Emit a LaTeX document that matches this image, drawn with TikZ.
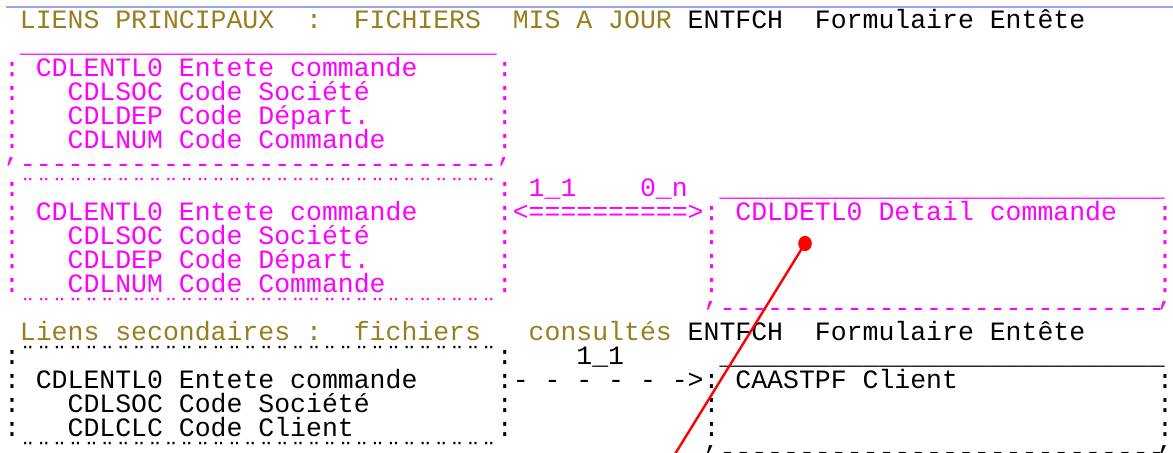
\documentclass[tikz,border=0pt]{standalone}
\usepackage{fontspec}
\setmonofont{Liberation Mono}
\definecolor{scrgold}{RGB}{155,124,30}
\definecolor{scrmag}{RGB}{255,0,255}
\definecolor{scrline}{RGB}{150,165,230}
\newcommand{\rep}[2]{\foreach \k in {1,...,#1}{#2}}
\newcommand{\tick}{\smash{\raisebox{.4em}{,}}}

\begin{document}
\begin{tikzpicture}[x=7.95pt,y=-12pt,
		scr/.style={font=\ttfamily\fontsize{13.25}{16}\selectfont,anchor=base west,inner sep=0pt,outer sep=0pt},
		gold/.style={scr,text=scrgold},
		mag/.style={scr,text=scrmag},
		blk/.style={scr,text=black},
		edge/.style={anchor=base east}]
			\useasboundingbox (-2pt,14.25pt) rectangle (584.5pt,-211.75pt);
			\draw[scrline,line width=.8pt](1pt,10.75pt)--(584.5pt,10.75pt);
			% liens principaux
			\node[gold](t1) at (1,0){LIENS PRINCIPAUX};
			\node[gold](t1c) at (19,0){:};
			\node[gold](t1f) at (22,0){FICHIERS};
			\node[gold](t1m) at (32,0){MIS A JOUR};
			\node[blk](t1e) at (43,0){ENTFCH};
			\node[blk](t1t) at (51,0){Formulaire Entête};
			% CDLENTL0 mis a jour
			\node[mag](m1top) at (1,1){\rep{30}{\_}};
			\foreach \r in {2,...,5}{
				\node[mag](m1l\r) at (0,\r){:};
				\node[mag](m1r\r) at (31,\r){:};
			}
			\node[mag](m1) at (2,2){CDLENTL0 Entete commande};
			\node[mag](m1a) at (4,3){CDLSOC Code Société};
			\node[mag](m1b) at (4,4){CDLDEP Code Départ.};
			\node[mag](m1c) at (4,5){CDLNUM Code Commande};
			\node[mag](m1bl) at (0,6){\tick};
			\node[mag](m1bot) at (1,6){\rep{30}{-}};
			\node[mag](m1br) at (31,6){\tick};
			% CDLENTL0 <==> CDLDETL0
			\node[mag](m2top) at (1,7){\rep{30}{¨}};
			\foreach \r in {7,...,11}{
				\node[mag](m2l\r) at (0,\r){:};
				\node[mag](m2r\r) at (31,\r){:};
			}
			\node[mag](m2) at (2,8){CDLENTL0 Entete commande};
			\node[mag](m2a) at (4,9){CDLSOC Code Société};
			\node[mag](m2b) at (4,10){CDLDEP Code Départ.};
			\node[mag](m2c) at (4,11){CDLNUM Code Commande};
			\node[mag](m2bot) at (1,12){\rep{30}{¨}};
			\node[mag](c11) at (33,7){1\_1};
			\node[mag](c0n) at (40,7){0\_n};
			\node[mag](lk1) at (32,8){<==========>};
			\node[mag](d1top) at (45,7){\rep{28}{\_}};
			\foreach \r in {8,...,11}{
				\node[mag](d1l\r) at (44,\r){:};
				\node[mag,edge](d1r\r) at (73.52,\r){:};
			}
			\node[mag](d1) at (46,8){CDLDETL0 Detail commande};
			\node[mag](d1bl) at (44,12){\tick};
			\node[mag](d1bot) at (45,12){\rep{28}{-}};
			\node[mag,edge](d1br) at (73.52,12){\tick};
			% liens secondaires
			\node[gold](t2) at (1,13){Liens secondaires};
			\node[gold](t2c) at (19,13){:};
			\node[gold](t2f) at (22,13){fichiers};
			\node[gold](t2m) at (33,13){consultés};
			\node[blk](t2e) at (43,13){ENTFCH};
			\node[blk](t2t) at (51,13){Formulaire Entête};
			% CDLENTL0 --> CAASTPF
			\node[blk](s1top) at (1,14){\rep{30}{¨}};
			\foreach \r in {14,...,17}{
				\node[blk](s1l\r) at (0,\r){:};
				\node[blk](s1r\r) at (31,\r){:};
			}
			\node[blk](s1) at (2,15){CDLENTL0 Entete commande};
			\node[blk](s1a) at (4,16){CDLSOC Code Société};
			\node[blk](s1b) at (4,17){CDLCLC Code Client};
			\node[blk](s1bot) at (1,18){\rep{30}{¨}};
			\node[blk](c21) at (36,14){1\_1};
			\node[blk](lk2) at (32,15){- - - - - ->};
			\node[blk](d2top) at (45,14){\rep{28}{\_}};
			\foreach \r in {15,...,17}{
				\node[blk](d2l\r) at (44,\r){:};
				\node[blk,edge](d2r\r) at (73.52,\r){:};
			}
			\node[blk](d2) at (46,15){CAASTPF Client};
			\node[blk](d2bl) at (44,18){\tick};
			\node[blk](d2bot) at (45,18){\rep{28}{-}};
			\node[blk,edge](d2br) at (73.52,18){\tick};
			% pointeur rouge
			\coordinate(pin) at (400.5pt,-107.5pt);
			\coordinate(pinend) at (333.5pt,-216pt);
			\draw[red,line width=1.2pt](pin)--(pinend);
			\fill[red](pin) circle[x radius=3.4pt,y radius=3.8pt];
		\end{tikzpicture}
\end{document}
